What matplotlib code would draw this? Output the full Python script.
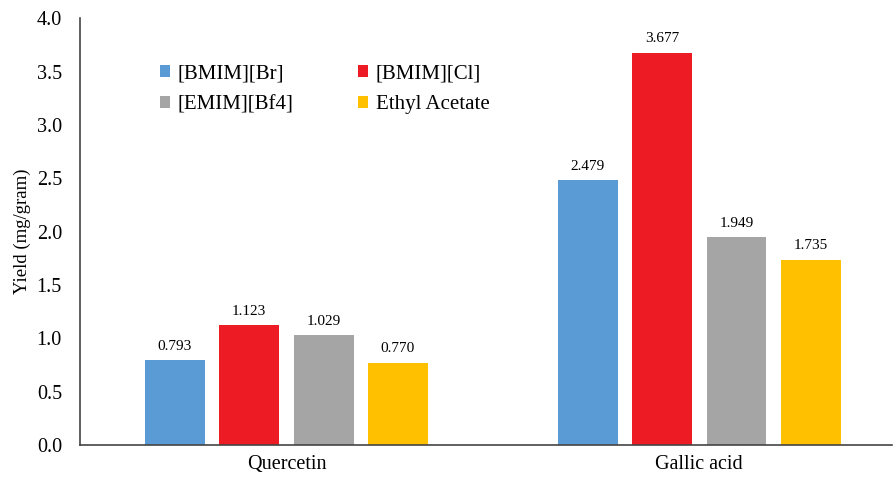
import matplotlib.pyplot as plt
import numpy as np

categories = ['Quercetin', 'Gallic acid']
solvents = ['[BMIM][Br]', '[BMIM][Cl]', '[EMIM][Bf4]', 'Ethyl Acetate']
yields = {
    '[BMIM][Br]': [0.793, 2.479],
    '[BMIM][Cl]': [1.123, 3.677],
    '[EMIM][Bf4]': [1.029, 1.949],
    'Ethyl Acetate': [0.770, 1.735],
}
colors = ['#5B9BD5', '#ED1C24', '#A5A5A5', '#FFC000']

plt.rcParams['font.family'] = ['Liberation Serif', 'DejaVu Serif']

fig = plt.figure(figsize=(8.93, 4.78), dpi=100)
ax = fig.add_axes([0.0896, 0.069, 0.9094, 0.893])

x = np.arange(len(categories))
width = 0.145
step = 0.18
handles = []
for i, (name, color) in enumerate(zip(solvents, colors)):
    offset = (i - 1.5) * step
    bars = ax.bar(x + offset, yields[name], width, color=color, label=name)
    handles.append(bars)
    for bar, val in zip(bars, yields[name]):
        ax.text(bar.get_x() + bar.get_width() / 2, val + 0.07, f'{val:.3f}',
                ha='center', va='bottom', fontsize=11)

ax.set_xlim(-0.5, 1.467)
ax.set_ylim(0, 4.0)
ticks = np.arange(0, 4.01, 0.5)
ax.set_yticks(ticks)
ax.set_yticklabels([f'{v:.1f}' for v in ticks], fontsize=14.5)
ax.set_xticks(x)
ax.set_xticklabels(categories, fontsize=14.5)
ax.tick_params(axis='y', length=0, pad=13)
ax.tick_params(axis='x', length=0, pad=7)
ax.set_ylabel('Yield (mg/gram)', fontsize=13.5, labelpad=4)
for side in ['top', 'right']:
    ax.spines[side].set_visible(False)
for side in ['left', 'bottom']:
    ax.spines[side].set_color('#444444')
    ax.spines[side].set_linewidth(1.2)

# legend fills column-wise, so order entries to read row-wise
order = [0, 2, 1, 3]
ax.legend(handles=[handles[k] for k in order], labels=[solvents[k] for k in order],
          ncol=2, frameon=False, fontsize=15, loc='upper left',
          bbox_to_anchor=(0.075, 0.935), handlelength=0.5, handleheight=0.5,
          handletextpad=0.35, columnspacing=3.1, labelspacing=0.55)

fig.savefig('out.png', dpi=100)
